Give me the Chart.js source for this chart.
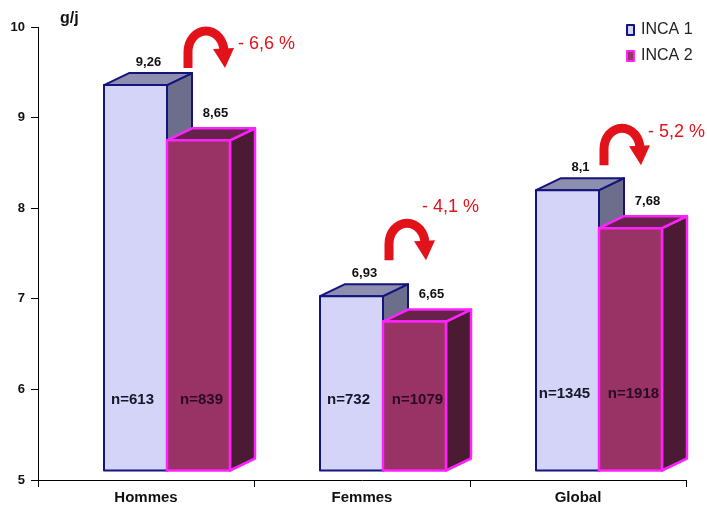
<!DOCTYPE html>
<html>
<head>
<meta charset="utf-8">
<script src="https://cdn.jsdelivr.net/npm/chart.js@4"></script>
<style>
  html, body { margin: 0; padding: 0; background: #fff; }
  #wrap { width: 707px; height: 506px; position: relative; }
</style>
</head>
<body>
<div id="wrap"><canvas id="c" width="707" height="506"></canvas></div>
<script>
// Daily intake (g/j), INCA 1 vs INCA 2
const categories = ['Hommes', 'Femmes', 'Global'];
const inca1 = [9.26, 6.93, 8.1];
const inca2 = [8.65, 6.65, 7.68];
const sampleInca1 = ['n=613', 'n=732', 'n=1345'];
const sampleInca2 = ['n=839', 'n=1079', 'n=1918'];
const changeLabels = ['- 6,6 %', '- 4,1 %', '- 5,2 %'];
const seriesNames = ['INCA 1', 'INCA 2'];
const yMin = 5, yMax = 10, yStep = 1;

const FONT = '"Liberation Sans", Arial, sans-serif';

// look of the two box series: front, top, side, outline
const boxStyle = [
  { front: '#D4D4F8', top: '#8E8EAE', side: '#6C6E8C', edge: '#14147E', edgeWidth: 2, text: '#16162a' },
  { front: '#993366', top: '#66234A', side: '#4B1A33', edge: '#FF22FF', edgeWidth: 2.5, text: '#2a0a22' }
];
// projection of the box depth and of the floor
const DEPTH_X = 25, DEPTH_Y = -12;
const FLOOR_X = 21, FLOOR_Y = -9;
// placement of the curved arrows and their captions around each group
// [arrow dx, arrow dy, caption dx, caption dy] from the INCA 1 front top-right corner
const arrowPlace = [[21, -17, 50, -24], [6, -36, 33, -53], [5, -25, 44, -33]];
const sampleLift = [0, 0, -6];

function fmt(v) { return String(v).replace('.', ','); }

function drawArrow(ctx, x, y) {
  const c = 18, ry = 21;
  ctx.save();
  ctx.strokeStyle = '#E2121A';
  ctx.fillStyle = '#E2121A';
  ctx.lineWidth = 9;
  ctx.lineCap = 'butt';
  ctx.beginPath();
  ctx.moveTo(x, y);
  ctx.lineTo(x, y - 16);
  ctx.ellipse(x + c, y - 16, c, ry, 0, Math.PI, 2 * Math.PI, false);
  ctx.lineTo(x + 2 * c, y - 17);
  ctx.stroke();
  ctx.beginPath();
  ctx.moveTo(x + 2 * c - 11, y - 19);
  ctx.lineTo(x + 2 * c + 10, y - 20);
  ctx.lineTo(x + 2 * c + 1, y);
  ctx.closePath();
  ctx.fill();
  ctx.restore();
}

const boxes3d = {
  id: 'boxes3d',
  afterDatasetsDraw(chart) {
    const ctx = chart.ctx;
    const ys = chart.scales.y;
    ctx.save();
    categories.forEach((cat, i) => {
      const corners = [];
      [0, 1].forEach(d => {
        const el = chart.getDatasetMeta(d).data[i];
        const st = boxStyle[d];
        const L = el.x - el.width / 2 + FLOOR_X;
        const R = el.x + el.width / 2 + FLOOR_X;
        const T = el.y + FLOOR_Y;
        const B = el.base + FLOOR_Y;
        corners.push({ L, R, T, B });
        ctx.lineWidth = st.edgeWidth;
        ctx.lineJoin = 'round';
        ctx.strokeStyle = st.edge;
        // side face
        ctx.beginPath();
        ctx.moveTo(R, T); ctx.lineTo(R + DEPTH_X, T + DEPTH_Y);
        ctx.lineTo(R + DEPTH_X, B + DEPTH_Y); ctx.lineTo(R, B); ctx.closePath();
        ctx.fillStyle = st.side; ctx.fill(); ctx.stroke();
        // top face
        ctx.beginPath();
        ctx.moveTo(L, T); ctx.lineTo(L + DEPTH_X, T + DEPTH_Y);
        ctx.lineTo(R + DEPTH_X, T + DEPTH_Y); ctx.lineTo(R, T); ctx.closePath();
        ctx.fillStyle = st.top; ctx.fill(); ctx.stroke();
        // front face
        ctx.beginPath();
        ctx.rect(L, T, R - L, B - T);
        ctx.fillStyle = st.front; ctx.fill(); ctx.stroke();
      });
      // value labels
      ctx.fillStyle = '#111';
      ctx.font = 'bold 13px ' + FONT;
      ctx.textAlign = 'center';
      ctx.textBaseline = 'middle';
      const a = corners[0], b = corners[1];
      ctx.fillText(fmt(inca1[i]), (a.L + a.R) / 2 + 13, a.T - 23);
      ctx.fillText(fmt(inca2[i]), (b.L + b.R) / 2 + 17, b.T - 27);
      // sample sizes
      ctx.font = 'bold 15px ' + FONT;
      const ny = ys.getPixelForValue(5.88) + sampleLift[i];
      ctx.fillStyle = boxStyle[0].text;
      ctx.fillText(sampleInca1[i], (a.L + a.R) / 2 - 3, ny);
      ctx.fillStyle = boxStyle[1].text;
      ctx.fillText(sampleInca2[i], (b.L + b.R) / 2 + 3, ny);
      // change arrow and caption
      const p = arrowPlace[i];
      const ax = a.R + p[0], ay = a.T + p[1];
      drawArrow(ctx, ax, ay);
      ctx.fillStyle = '#E2121A';
      ctx.font = '18px ' + FONT;
      ctx.textAlign = 'left';
      ctx.fillText(changeLabels[i], ax + p[2], ay + p[3]);
    });

    // unit label
    ctx.fillStyle = '#111';
    ctx.font = 'bold 16px ' + FONT;
    ctx.textAlign = 'left';
    ctx.textBaseline = 'middle';
    ctx.fillText('g/j', 60, 19);

    // legend
    ctx.font = '16px ' + FONT;
    seriesNames.forEach((name, k) => {
      const st = boxStyle[k];
      const by = 25 + k * 26;
      ctx.fillStyle = st.front;
      ctx.strokeStyle = st.edge;
      ctx.lineWidth = 2;
      ctx.fillRect(627, by, 7, 10);
      ctx.strokeRect(627, by, 7, 10);
      ctx.fillStyle = '#222';
      ctx.fillText(name, 641, by + 5);
    });
    ctx.restore();
  }
};

new Chart(document.getElementById('c'), {
  type: 'bar',
  data: {
    labels: categories,
    datasets: [
      { label: seriesNames[0], data: inca1, backgroundColor: 'rgba(0,0,0,0)', borderWidth: 0 },
      { label: seriesNames[1], data: inca2, backgroundColor: 'rgba(0,0,0,0)', borderWidth: 0 }
    ]
  },
  options: {
    responsive: false,
    animation: false,
    devicePixelRatio: 1,
    layout: { padding: { top: 27, right: 21, left: 0, bottom: 0 } },
    datasets: { bar: { categoryPercentage: 0.5833, barPercentage: 1, base: yMin } },
    plugins: { legend: { display: false }, tooltip: { enabled: false } },
    scales: {
      x: {
        grid: { display: true, drawOnChartArea: false, drawTicks: true, tickLength: 7, color: '#000', lineWidth: 1 },
        border: { display: true, color: '#000', width: 1 },
        ticks: { color: '#111', font: { family: FONT, size: 15, weight: 'bold' }, padding: 2 },
        afterFit(s) { s.height = 26; }
      },
      y: {
        min: yMin, max: yMax,
        grid: { display: true, drawOnChartArea: false, drawTicks: true, tickLength: 7, color: '#000', lineWidth: 1 },
        border: { display: true, color: '#000', width: 1 },
        ticks: { stepSize: yStep, color: '#111', font: { family: FONT, size: 13, weight: 'bold' }, padding: 6 },
        afterFit(s) { s.width = 38; }
      }
    }
  },
  plugins: [boxes3d]
});
</script>
</body>
</html>
